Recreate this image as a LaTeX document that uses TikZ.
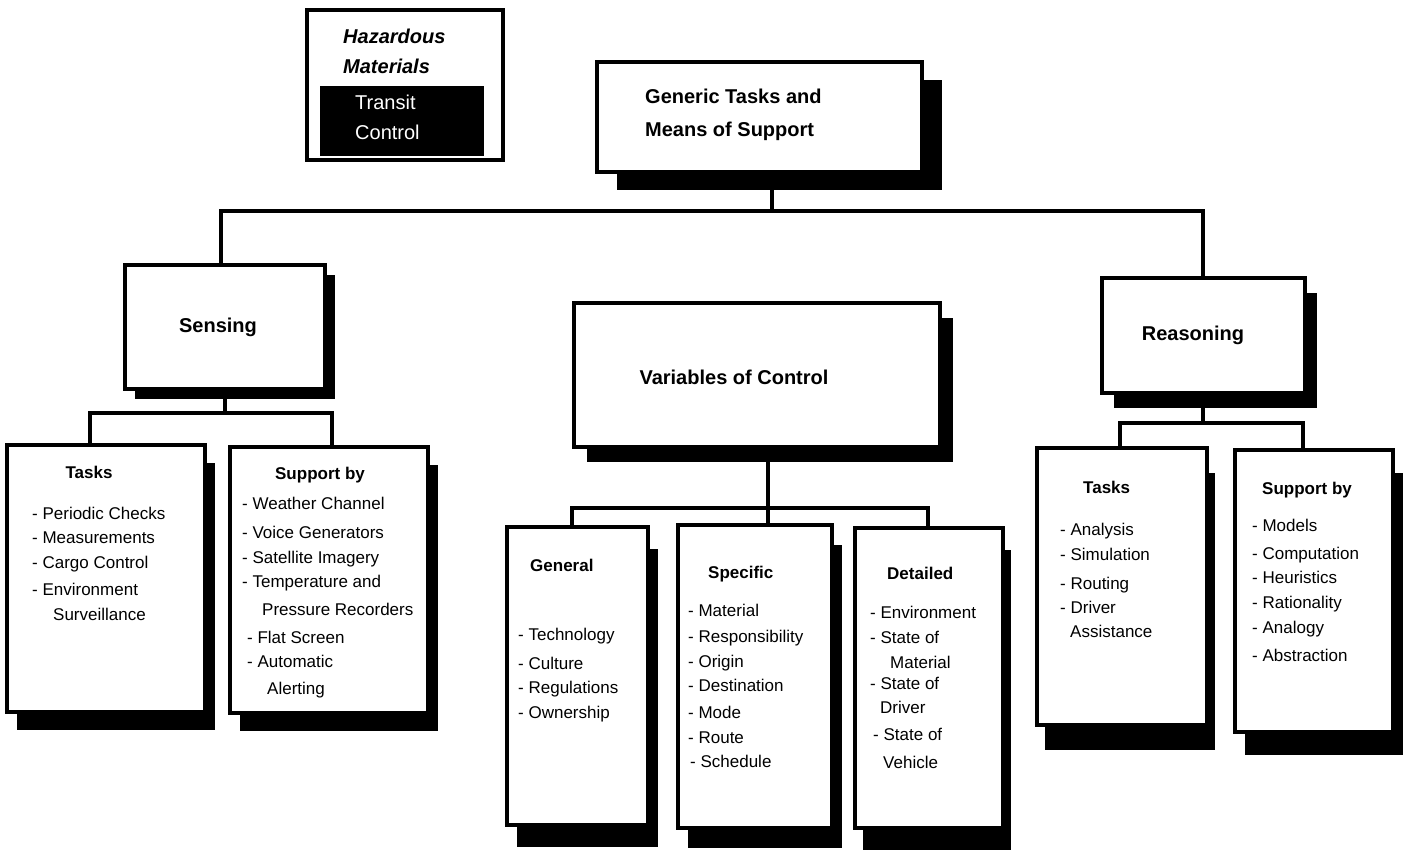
\documentclass[tikz,border=0pt]{standalone}
\usepackage{fontspec}
\setmainfont{Liberation Sans}
\usetikzlibrary{shadows,fit}
\tikzset{
 box/.style={draw=black, line width=3.5pt, fill=white, inner sep=0pt},
 shad/.style 2 args={drop shadow={shadow xshift=#1pt, shadow yshift=-#2pt, fill=black, opacity=1}},
 conn/.style={line width=3.5pt},
 head/.style={font=\fontsize{20}{24}\selectfont\bfseries, inner sep=0pt, text height=14pt, text depth=0pt},
 sub/.style={font=\fontsize{17}{20}\selectfont\bfseries, inner sep=0pt, anchor=west, text height=12pt, text depth=0pt},
 item/.style={font=\fontsize{17}{20}\selectfont, inner sep=0pt, anchor=west, text height=12pt, text depth=0pt},
}
\begin{document}
\begin{tikzpicture}[x=1pt,y=-1pt]
\useasboundingbox (0,0) rectangle (1405,853);
% boxes
\node[box, fit={(307,10)(503,160)}] (haz) {};
\node[fill=black, inner sep=0pt, fit={(320,86)(484,156)}] (hazin) {};
\node[box, shad={20}{18}, fit={(597,62)(922,172)}] (gen) {};
\node[box, shad={10}{10}, fit={(125,265)(325,389)}] (sens) {};
\node[box, shad={13}{15}, fit={(574,303)(940,447)}] (var) {};
\node[box, shad={12}{15}, fit={(1102,278)(1305,393)}] (reas) {};
\node[box, shad={10}{18}, fit={(7,445)(205,712)}] (stask) {};
\node[box, shad={10}{18}, fit={(230,447)(428,713)}] (ssup) {};
\node[box, shad={10}{22}, fit={(507,527)(648,825)}] (vgen) {};
\node[box, shad={10}{20}, fit={(678,525)(832,828)}] (vspec) {};
\node[box, shad={8}{22}, fit={(855,528)(1003,828)}] (vdet) {};
\node[box, shad={8}{25}, fit={(1037,448)(1207,725)}] (rtask) {};
\node[box, shad={10}{23}, fit={(1235,450)(1393,732)}] (rsup) {};
% connectors
\coordinate (bus0) at (772,211);
\coordinate (xs) at (221,211);
\coordinate (xr) at (1203,211);
\draw[conn] (gen.south -| bus0) -- (bus0);
\draw[conn] (sens.north -| xs) -- (xs) -- (xr) -- (reas.north -| xr);
\coordinate (a1) at (225,413);
\coordinate (a2) at (90,413);
\coordinate (a3) at (332,413);
\draw[conn] (sens.south -| a1) -- (a1);
\draw[conn] (stask.north -| a2) -- (a2) -- (a3) -- (ssup.north -| a3);
\coordinate (b1) at (768,508);
\coordinate (b2) at (572,508);
\coordinate (b3) at (928,508);
\draw[conn] (var.south -| b1) -- (b1);
\draw[conn] (vgen.north -| b2) -- (b2) -- (b3) -- (vdet.north -| b3);
\draw[conn] (vspec.north -| b1) -- (b1);
\coordinate (c1) at (1203,423);
\coordinate (c2) at (1120,423);
\coordinate (c3) at (1303,423);
\draw[conn] (reas.south -| c1) -- (c1);
\draw[conn] (rtask.north -| c2) -- (c2) -- (c3) -- (rsup.north -| c3);
% texts
\node[head, font=\fontsize{20}{24}\selectfont\bfseries\itshape, anchor=west] (h1) at (343,37) {Hazardous};
\node[head, font=\fontsize{20}{24}\selectfont\bfseries\itshape, anchor=west] (h2) at (343,67) {Materials};
\node[head, font=\fontsize{20}{24}\selectfont, text=white, anchor=west] (h3) at (355,103) {Transit};
\node[head, font=\fontsize{20}{24}\selectfont, text=white, anchor=west] (h4) at (355,133) {Control};
\node[head, anchor=west] (g1) at (645,97) {Generic Tasks and};
\node[head, anchor=west] (g2) at (645,130) {Means of Support};
\node[head] (sensT) at (218,325) {Sensing};
\node[head] (varT) at (734,377) {Variables of Control};
\node[head] (reasT) at (1193,333) {Reasoning};
% sensing tasks
\node[sub, anchor=center] (st0) at (89,472) {Tasks};
\node[item] (st1) at (32,513) {- Periodic Checks};
\node[item] (st2) at (32,537) {- Measurements};
\node[item] (st3) at (32,562) {- Cargo Control};
\node[item] (st4) at (32,589) {- Environment};
\node[item] (st5) at (53,614) {Surveillance};
% sensing support
\node[sub, anchor=center] (ss0) at (320,473) {Support by};
\node[item] (ss1) at (242,503) {- Weather Channel};
\node[item] (ss2) at (242,532) {- Voice Generators};
\node[item] (ss3) at (242,557) {- Satellite Imagery};
\node[item] (ss4) at (242,581) {- Temperature and};
\node[item] (ss5) at (262,609) {Pressure Recorders};
\node[item] (ss6) at (247,637) {- Flat Screen};
\node[item] (ss7) at (247,661) {- Automatic};
\node[item] (ss8) at (267,688) {Alerting};
% general
\node[sub] (vg0) at (530,565) {General};
\node[item] (vg1) at (518,634) {- Technology};
\node[item] (vg2) at (518,663) {- Culture};
\node[item] (vg3) at (518,687) {- Regulations};
\node[item] (vg4) at (518,712) {- Ownership};
% specific
\node[sub] (vs0) at (708,572) {Specific};
\node[item] (vs1) at (688,610) {- Material};
\node[item] (vs2) at (688,636) {- Responsibility};
\node[item] (vs3) at (688,661) {- Origin};
\node[item] (vs4) at (688,685) {- Destination};
\node[item] (vs5) at (688,712) {- Mode};
\node[item] (vs6) at (688,737) {- Route};
\node[item] (vs7) at (690,761) {- Schedule};
% detailed
\node[sub] (vd0) at (887,573) {Detailed};
\node[item] (vd1) at (870,612) {- Environment};
\node[item] (vd2) at (870,637) {- State of};
\node[item] (vd3) at (890,662) {Material};
\node[item] (vd4) at (870,683) {- State of};
\node[item] (vd5) at (880,707) {Driver};
\node[item] (vd6) at (873,734) {- State of};
\node[item] (vd7) at (883,762) {Vehicle};
% reasoning tasks
\node[sub] (rt0) at (1083,487) {Tasks};
\node[item] (rt1) at (1060,529) {- Analysis};
\node[item] (rt2) at (1060,554) {- Simulation};
\node[item] (rt3) at (1060,583) {- Routing};
\node[item] (rt4) at (1060,607) {- Driver};
\node[item] (rt5) at (1070,631) {Assistance};
% reasoning support
\node[sub] (rs0) at (1262,488) {Support by};
\node[item] (rs1) at (1252,525) {- Models};
\node[item] (rs2) at (1252,553) {- Computation};
\node[item] (rs3) at (1252,577) {- Heuristics};
\node[item] (rs4) at (1252,602) {- Rationality};
\node[item] (rs5) at (1252,627) {- Analogy};
\node[item] (rs6) at (1252,655) {- Abstraction};
\end{tikzpicture}
\end{document}
